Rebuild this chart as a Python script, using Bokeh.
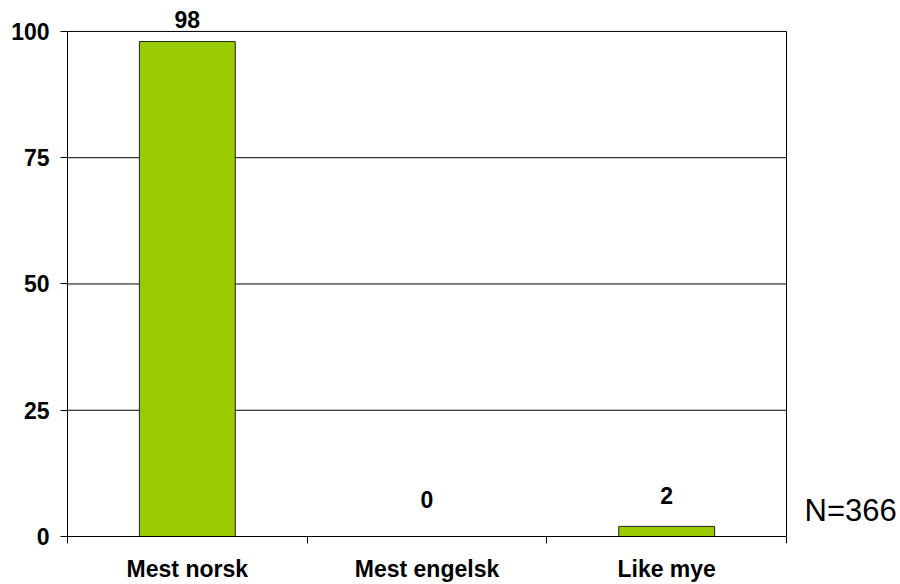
from bokeh.plotting import figure
from bokeh.models import (ColumnDataSource, Range1d, FixedTicker, LabelSet, Label)
from bokeh.core.properties import value
from bokeh.embed import file_html
from bokeh.resources import INLINE
import numpy as np

# ---- data ----
categories = ["Mest norsk", "Mest engelsk", "Like mye"]
values = [98, 0, 2]
value_labels = ["98", "0", "2"]
label_offsets = [14, 29, 22]
y_ticks = [0, 25, 50, 75, 100]
n_text = "N=366"

FONT = "Liberation Sans"
BAR = "#99CC00"
W, H = 900, 584
LEFT, BOTTOM = 67, 47
PLOT_RIGHT_PX = 786   # right edge of the drawn chart box
FS = "23px"

ncat = len(categories)
ymax = y_ticks[-1]
frame_w = W - LEFT
frame_h = H - BOTTOM
px_per_x = (PLOT_RIGHT_PX - LEFT) / ncat
x_end = frame_w / px_per_x
px_per_y = (frame_h - 31) / ymax
y_end = frame_h / px_per_y

xpos = np.arange(ncat) + 0.5
src = ColumnDataSource(dict(x=xpos, top=values, text=value_labels, yo=label_offsets))

p = figure(width=W, height=H, output_backend="svg", toolbar_location=None,
           x_range=Range1d(0, x_end), y_range=Range1d(0, y_end),
           min_border_left=LEFT, min_border_right=0, min_border_top=0,
           min_border_bottom=BOTTOM)
p.background_fill_color = "white"
p.border_fill_color = "white"
p.outline_line_color = None
p.xgrid.visible = False
p.ygrid.visible = False

# grid lines and right border of the chart box
gy = [t for t in y_ticks if t > 0]
p.segment(x0=[0] * len(gy), y0=gy, x1=[ncat] * len(gy), y1=gy,
          line_color="black", line_width=1)
p.segment(x0=[ncat], y0=[0], x1=[ncat], y1=[ymax], line_color="black", line_width=1)

p.vbar(x="x", top="top", bottom=0, width=0.4, source=src,
       fill_color=BAR, line_color="#222222", line_width=1)

labels = LabelSet(x="x", y="top", text="text", y_offset="yo", source=src,
                  text_align="center", text_baseline="bottom",
                  text_font=value(FONT), text_font_style="bold", text_font_size=FS,
                  text_color="black")
p.add_layout(labels)

# x axis
xa = p.xaxis[0]
xa.bounds = (0, ncat)
xa.ticker = FixedTicker(ticks=list(xpos), minor_ticks=list(range(ncat + 1)))
xa.major_label_overrides = {float(x): c for x, c in zip(xpos, categories)}
xa.major_tick_out = 0
xa.major_tick_in = 0
xa.minor_tick_out = 7
xa.minor_tick_in = 0
xa.minor_tick_line_color = "black"
xa.axis_line_color = "black"
xa.major_label_standoff = 12
xa.major_label_text_font = FONT
xa.major_label_text_font_style = "bold"
xa.major_label_text_font_size = FS
xa.major_label_text_color = "black"

# y axis
ya = p.yaxis[0]
ya.bounds = (0, ymax)
ya.ticker = FixedTicker(ticks=y_ticks, minor_ticks=[])
ya.major_tick_out = 7
ya.major_tick_in = 0
ya.major_tick_line_color = "black"
ya.axis_line_color = "black"
ya.major_label_standoff = 11
ya.major_label_text_font = FONT
ya.major_label_text_font_style = "bold"
ya.major_label_text_font_size = FS
ya.major_label_text_color = "black"

n_label = Label(x=ncat + (804 - PLOT_RIGHT_PX) / px_per_x, y=26 / px_per_y,
                text=n_text, text_font=FONT, text_font_size="31px", text_color="black",
                text_baseline="middle", text_align="left")
p.add_layout(n_label)

open("out.html", "w").write(file_html(p, INLINE))
